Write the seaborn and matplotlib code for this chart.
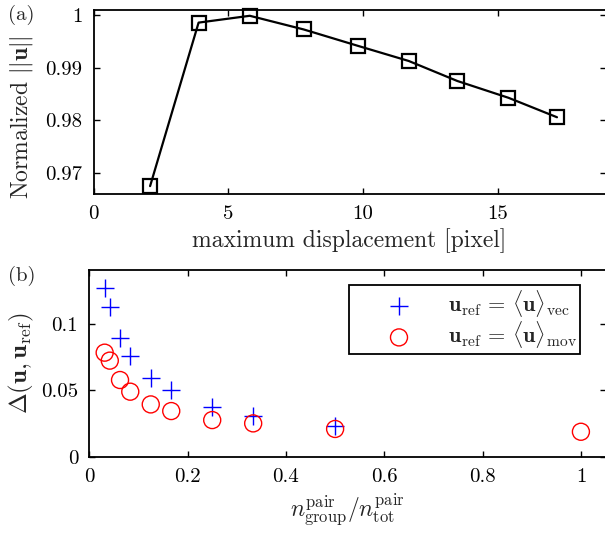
import numpy as np
import pandas as pd
import matplotlib
matplotlib.use("Agg")
import matplotlib.pyplot as plt
import seaborn as sns

# ---- data (panel a) ----
max_disp = [2.1, 3.9, 5.8, 7.8, 9.8, 11.7, 13.5, 15.4, 17.2]
norm_u = [0.9675, 0.9986, 0.9999, 0.9973, 0.9942, 0.9913, 0.9875, 0.9843, 0.9806]

# ---- data (panel b) ----
ratio_vec = [1/32, 1/24, 1/16, 1/12, 1/8, 1/6, 1/4, 1/3, 1/2]
delta_vec = [0.1269, 0.1126, 0.0897, 0.0759, 0.0590, 0.0502, 0.0377, 0.0305, 0.0232]
ratio_mov = [1/32, 1/24, 1/16, 1/12, 1/8, 1/6, 1/4, 1/3, 1/2, 1.0]
delta_mov = [0.0784, 0.0724, 0.0578, 0.0490, 0.0394, 0.0344, 0.0276, 0.0251, 0.0209, 0.0188]

xticks_a = [0, 5, 10, 15]
yticks_a = [0.97, 0.98, 0.99, 1.0]
yticklabels_a = ["0.97", "0.98", "0.99", "1"]
xticks_b = [0, 0.2, 0.4, 0.6, 0.8, 1.0]
xticklabels_b = ["0", "0.2", "0.4", "0.6", "0.8", "1"]
yticks_b = [0, 0.05, 0.1]
yticklabels_b = ["0", "0.05", "0.1"]

sns.set_style("ticks")
plt.rcParams["font.family"] = ["serif"]
plt.rcParams["font.serif"] = ["cmr10", "DejaVu Serif"]
plt.rcParams["mathtext.fontset"] = "cm"
plt.rcParams["axes.formatter.use_mathtext"] = True
plt.rcParams["axes.unicode_minus"] = False
plt.rcParams["font.size"] = 15

fig = plt.figure(figsize=(6.05, 5.34), dpi=100)
ax1 = fig.add_axes([93.5/605, 1-194/534, (605.5-93.5)/605, (194-10)/534])
ax2 = fig.add_axes([89.3/605, 1-456.7/534, (605.5-89.3)/605, (456.7-270)/534])

dfa = pd.DataFrame({"x": max_disp, "y": norm_u})
sns.lineplot(data=dfa, x="x", y="y", ax=ax1, color="black", linewidth=1.6,
             marker="s", markersize=9.5, markerfacecolor="none",
             markeredgecolor="black", markeredgewidth=1.6, clip_on=False)
ax1.set_xlim(0, 19)
ax1.set_ylim(0.9660, 1.0010)
ax1.set_xticks(xticks_a)
ax1.set_xticklabels([str(t) for t in xticks_a])
ax1.set_yticks(yticks_a)
ax1.set_yticklabels(yticklabels_a)
ax1.set_xlabel("maximum displacement [pixel]", fontsize=17, labelpad=4)
ax1.set_ylabel(r"Normalized $||\mathbf{u}||$", fontsize=17)
ax1.yaxis.set_label_coords((35 - 93.5) / 512, 0.42)

dfv = pd.DataFrame({"x": ratio_vec, "y": delta_vec})
dfm = pd.DataFrame({"x": ratio_mov, "y": delta_mov})
sns.scatterplot(data=dfv, x="x", y="y", ax=ax2, marker="+", s=150,
                color="blue", linewidth=1.0,
                label=r"$\mathbf{u}_{\mathrm{ref}}\,=\,\langle\mathbf{u}\rangle_{\mathrm{vec}}$")
sns.scatterplot(data=dfm, x="x", y="y", ax=ax2, marker="o", s=150,
                facecolor="none", edgecolor="red", linewidth=1.0,
                label=r"$\mathbf{u}_{\mathrm{ref}}\,=\,\langle\mathbf{u}\rangle_{\mathrm{mov}}$")
ax2.set_xlim(0, 1.05)
ax2.set_ylim(0, 0.1407)
ax2.set_xticks(xticks_b)
ax2.set_xticklabels(xticklabels_b)
ax2.set_yticks(yticks_b)
ax2.set_yticklabels(yticklabels_b)
ax2.set_xlabel(r"$n_{\mathrm{group}}^{\mathrm{pair}}/n_{\mathrm{tot}}^{\mathrm{pair}}$", fontsize=17, labelpad=4)
ax2.set_ylabel(r"$\Delta(\mathbf{u},\mathbf{u}_{\mathrm{ref}})$", fontsize=18, labelpad=4)

axw = (605.5-89.3)
leg = ax2.legend(loc="upper left",
                 bbox_to_anchor=((349-89.3)/axw, 1-(285-270)/186.7),
                 frameon=True, fancybox=False, fontsize=16, handletextpad=0.1,
                 borderpad=0.15, labelspacing=0.0, handlelength=4.2,
                 borderaxespad=0.0)
leg.get_frame().set_edgecolor("black")
leg.get_frame().set_linewidth(1.3)
leg.get_frame().set_alpha(1)

for ax in (ax1, ax2):
    ax.tick_params(direction="in", top=True, right=True, length=4, width=1,
                   labelsize=15, pad=8, colors="black")
    for s in ax.spines.values():
        s.set_linewidth(1.3)
        s.set_color("black")
        s.set_visible(True)

fig.text(8/605, 1-15/534, "(a)", fontsize=15, ha="left", va="center")
fig.text(8/605, 1-276/534, "(b)", fontsize=15, ha="left", va="center")

fig.savefig("out.png", dpi=100)
